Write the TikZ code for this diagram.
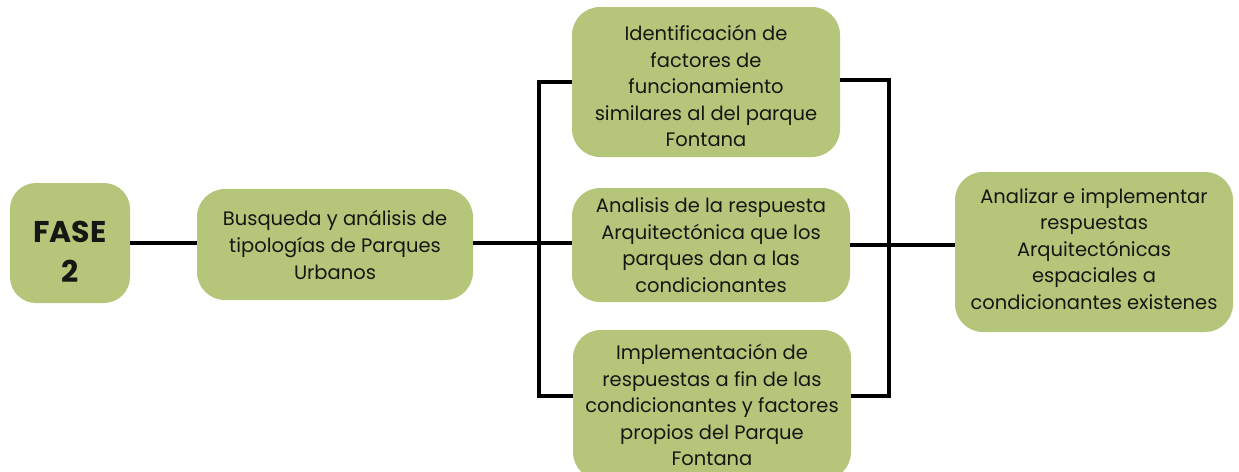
\documentclass[tikz,border=0pt]{standalone}
\usepackage{fontspec}
\setmainfont{Poppins}
\definecolor{boxgreen}{RGB}{181,197,122}
\definecolor{txt}{RGB}{22,22,18}
\begin{document}
\begin{tikzpicture}[x=1pt,y=-1pt,
  box/.style={rectangle, rounded corners=28pt, fill=boxgreen, draw=none, inner sep=0pt},
  label text/.style={align=center, text=txt, inner sep=0pt, font=\fontsize{19.5}{26.6}\selectfont},
  conn/.style={line width=3.2pt, black}]
\useasboundingbox[fill=white] (0,0) rectangle (1239,471);
% boxes
\node[box, minimum width=120pt, minimum height=120pt, rounded corners=26pt] (fase) at (70,243) {};
\node[box, minimum width=276pt, minimum height=111pt] (busq) at (335,244.5) {};
\node[box, minimum width=268pt, minimum height=150pt] (ident) at (706,82) {};
\node[box, minimum width=278pt, minimum height=114pt] (anal) at (711,245) {};
\node[box, minimum width=278pt, minimum height=150pt] (impl) at (712,405) {};
\node[box, minimum width=278pt, minimum height=160pt] (res) at (1094,252) {};
% texts
\node[label text, font=\fontsize{30}{40}\selectfont\bfseries] (fasetxt) at (70,252) {FASE\\2};
\node[label text] (busqtxt) at (335,245) {Busqueda y análisis de\\tipologías de Parques\\Urbanos};
\node[label text] (identtxt) at (706,86)
  {Identificación de\\factores de\\funcionamiento\\similares al del parque\\Fontana};
\node[label text] (analtxt) at (711,245)
  {Analisis de la respuesta\\Arquitectónica que los\\parques dan a las\\condicionantes};
\node[label text] (impltxt) at (712,405)
  {Implementación de\\respuestas a fin de las\\condicionantes y factores\\propios del Parque\\Fontana};
\node[label text] (restxt) at (1094,249)
  {Analizar e implementar\\respuestas\\Arquitectónicas\\espaciales a\\condicionantes existenes};
% connectors
\coordinate (ltop) at (539,82);
\coordinate (lmid) at (539,243);
\coordinate (lbot) at (539,396);
\coordinate (rtop) at (889,80);
\coordinate (rmid) at (889,245);
\coordinate (rbot) at (889,396);
\draw[conn] (fase.east |- 0,243) -- (busq.west |- 0,243);
\draw[conn] (busq.east |- lmid) -- (lmid) -- (anal.west |- lmid);
\draw[conn] (ident.west |- ltop) -- (ltop) -- (lbot) -- (impl.west |- lbot);
\draw[conn] (ident.east |- rtop) -- (rtop) -- (rbot) -- (impl.east |- rbot);
\draw[conn] (anal.east |- rmid) -- (rmid) -- (res.west |- rmid);
\end{tikzpicture}
\end{document}
